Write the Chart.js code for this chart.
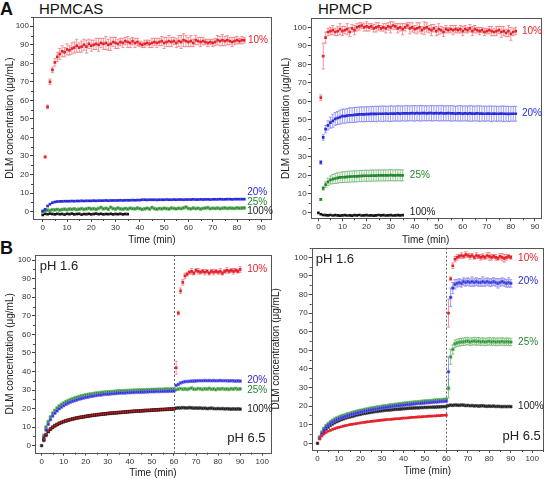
<!DOCTYPE html>
<html>
<head>
<meta charset="utf-8">
<script src="https://cdn.jsdelivr.net/npm/chart.js@4"></script>
<style>
  body { margin: 0; background: #fff; width: 548px; height: 479px; overflow: hidden; position: relative; }
  canvas { position: absolute; }
  .lbl { position: absolute; color: #111; font-family: "Liberation Sans", Arial, sans-serif; line-height: 1; white-space: nowrap; }
</style>
</head>
<body>
<div class="lbl" style="left:0px;top:0px;font-size:18px;font-weight:bold">A</div>
<div class="lbl" style="left:39px;top:1px;font-size:15px">HPMCAS</div>
<div class="lbl" style="left:318px;top:1px;font-size:15px">HPMCP</div>
<div class="lbl" style="left:0px;top:239px;font-size:18px;font-weight:bold">B</div>

<canvas id="aCas" width="276" height="246" style="left:0;top:0"></canvas>
<canvas id="aCp" width="274" height="246" style="left:274px;top:0"></canvas>
<canvas id="bCas" width="276" height="239" style="left:0;top:240px"></canvas>
<canvas id="bCp" width="280" height="239" style="left:268px;top:240px"></canvas>

<script>
// ---- A, HPMCAS (one point per minute) ----
const aCas10 = [29.5,56.5,70,76.5,80.5,83.5,85,86.5,86,87.5,
  87,88,88.5,89.5,88.5,89,90,89,90.5,89.5,
  90,90.5,90,91,90.5,91,90,90.5,91.5,91,
  90.5,91.5,91,92,91.5,91,92,91,91.5,90.5,
  90,90.5,91,90.5,91,91.5,91,91.5,92,91,
  91.5,92,91.5,92,91,92,91.5,92.5,92,91.5,
  92,91,92.5,92,91.5,92,91.5,91,91.5,91,
  91.5,92.5,92,92.5,92,92.5,92,91.5,92,92.5,
  92,92.5,92.5];                                   // t = 1..83
const aCas10Err = [0.5,1,1.5,1.5,2,2.5,3,3,2.5,3,
  2.5,3,3,3.5,2.5,3,3,3.5,2.5,3,
  2.5,3,3.5,2.5,3,3.5,3,3.5,2.5,3,
  2.5,2,2.5,2,3,2.5,2,2.5,2,1.5,
  1.5,2,1.5,2,2.5,2,2.5,2,2.5,3,
  2.5,3,2.5,2,2.5,3,3.5,3.5,3,2.5,
  3,2,2.5,2,2.5,2,1.5,2,1.5,2,
  2,2.5,2.5,3,2.5,2.5,2,2.5,2,2,
  1.5,2,1.5];
const aCas20 = [0.3,1.2,3,4,4.8,5.2,5.4,5.5,5.5,5.6,
  5.6,5.6,5.7,5.6,5.7,5.7,5.8,5.7,5.8,5.8,
  5.8,5.9,5.8,5.9,5.9,5.9,6,5.9,6,6,
  6,6,6.1,6,6.1,6.1,6.1,6.2,6.1,6.2,
  6.2,6.4,6.4,6.3,6.4,6.4,6.4,6.3,6.4,6.4,
  6.4,6.5,6.4,6.4,6.5,6.4,6.5,6.5,6.4,6.5,
  6.5,6.5,6.6,6.5,6.5,6.6,6.5,6.6,6.6,6.5,
  6.6,6.6,6.6,6.7,6.6,6.6,6.7,6.7,6.6,6.7,
  6.7,6.7,6.7,6.7];                                // t = 0..83
const aCas25 = [0,0.5,0.8,0.6,1,0.9,1.2,0.8,1.1,1.3,
  1,1.4,1.2,1.5,1.1,1.3,1.6,1.2,1.5,1.8,
  1.4,1.6,1.2,1.7,2.2,1.5,1.8,1.3,2.3,1.6,
  1.4,1.9,1.5,1.3,1.7,1.4,1.8,1.6,1.5,1.9,
  1.6,1.2,1.5,1.8,1.4,2.2,1.6,1.3,1.7,1.5,
  1.8,1.6,1.4,1.9,1.7,1.5,1.8,1.6,2,2.4,
  1.7,1.5,1.9,1.6,1.8,1.4,1.7,1.9,2.1,1.6,
  1.8,1.7,1.9,1.6,1.8,2,1.7,1.9,1.8,1.7,
  2,1.8,1.9,2];                                    // t = 0..83
const aCas100 = [-1.8,-1.2,-1.4,-1.1,-1.3,-1.5,-1.2,-1.4,-1.3,-1.6,
  -1.2,-1.4,-1.1,-1.5,-1.3,-1.2,-1.6,-1.3,-1.4,-1.2,
  -1.5,-1.3,-1.1,-1.4,-1.2,-1.5,-1.3,-1.4,-1.2,-1.5,
  -1.3,-1.4,-1.2,-1.5,-1.3,-1.4];                  // t = 0..35

// ---- A, HPMCP ----
const aCp10 = [62,84.5,94.5,97.5,98,98.5,97.5,98,99,98,
  98.5,99,97.5,99.5,98.5,100,100.5,101,100,100.5,
  100,100.5,99.5,100,100.5,99.5,100,99.5,100.5,100,
  101,100.5,99.5,100,99,100,101,99.5,100,99,
  99.5,100,98.5,99.5,100,99,98.5,99.5,98,99,
  98.5,97.5,99,98.5,99,98.5,99,98.5,99,98,
  99,98.5,99.5,98,99,98.5,98,98.5,97.5,98,
  98.5,98,97.5,98,98.5,97.5,98,97,98,96.5,
  97.5,98];                                        // t = 1..82
const aCp10Err = [1.5,7,3,2,2,2.5,2,2.5,3,2.5,
  2,3,2.5,2,2.5,2,2,1.5,2,2.5,
  2,1.5,2,2.5,2,1.5,2,2.5,2,3,
  2,1.5,2.5,2,3,2,1.5,3,2.5,2,
  3,2.5,2,3.5,2.5,2,3,2,2.5,3,
  2,2.5,2,1.5,2,2.5,2,1.5,2,2.5,
  2,1.5,2,2.5,2,1.5,2,1.5,2,1.5,
  2,2.5,2,2.5,2,3,2.5,2,3,3.5,
  2,2];
const aCp20 = [27,40.5,45,47,48.5,49.5,50.5,51,51.5,52,
  52,52.3,52.5,52.5,52.7,52.8,53,53,53,53.1,
  53.1,53.2,53.2,53.2,53.3,53.3,53.3,53.4,53.3,53.4,
  53.4,53.4,53.5,53.4,53.5,53.5,53.5,53.5,53.6,53.5,
  53.6,53.5,53.6,53.6,53.5,53.6,53.6,53.5,53.6,53.5,
  53.6,53.5,53.5,53.6,53.5,53.5,53.4,53.5,53.5,53.4,
  53.5,53.4,53.5,53.4,53.4,53.5,53.4,53.4,53.3,53.4,
  53.4,53.3,53.4,53.3,53.3,53.4,53.3,53.3,53.2,53.3,
  53.3,53.3];                                      // t = 1..82
const aCp20Err = [1,1.5,2,2.5,3,3.5,3.5,3.5,3.8,3.8,
  3.8,3.8,4,4,4,4,4,4,4,4,
  4,4.1,4,4.2,4,4.1,4.2,4,4.1,4.2,
  4.1,4,4.2,4.1,4,4.2,4.1,4,4.1,4.2,
  4,4.1,4.2,4,4.1,4,4.2,4.1,4,4.1,
  4.2,4,4.1,4,4.2,4.1,4,4.1,4.2,4,
  4.1,4,4.2,4.1,4,4.1,4.2,4,4.1,4,
  4.1,4.2,4,4.1,4,4.1,4.2,4,4.1,4,
  4,4];
const aCp25 = [7,13,15,16.5,17.5,18,18.3,18.6,18.9,19,
  19.1,19.2,19.3,19.4,19.5,19.5,19.6,19.7,19.8,19.8,
  19.8,19.9,19.9,19.9,20,20,20,20,20,20.1,
  20,20,20.1,20,20];                               // t = 1..35
const aCp25Err = [0.5,1,1.5,2,2.2,2.5,2.7,2.8,2.8,2.9,
  2.9,3,3,3,3,3,3,3,3,3,
  3,3,3,3,3,3,3,3,3,3,
  3,3,3,3,3];
const aCp100 = [-0.3,-1,-1.4,-1.5,-1.6,-1.4,-1.7,-1.5,-1.6,-1.8,
  -1.6,-1.5,-1.7,-1.6,-1.8,-1.5,-1.6,-1.4,-1.7,-1.6,
  -1.5,-1.7,-1.6,-1.8,-1.6,-1.4,-1.6,-1.5,-1.7,-1.6,
  -1.5,-1.7,-1.6,-1.5,-1.6,-1.5];                  // t = 0..35

// ---- B, HPMCAS (pH 1.6 until 60 min, then pH 6.5) ----
const bCas10 = [3.5,6,7.8,9,10,10.8,11.5,12.1,12.6,13,
  13.4,13.8,14.1,14.4,14.7,15,15.2,15.4,15.6,15.8,
  16,16.2,16.4,16.5,16.7,16.8,17,17.1,17.2,17.4,
  17.5,17.6,17.7,17.8,17.9,18,18.1,18.2,18.3,18.4,
  18.5,18.6,18.7,18.7,18.8,18.9,19,19,19.1,19.2,
  19.3,19.3,19.4,19.5,19.5,19.6,19.7,19.7,19.8,19.9,
  42,71.5,83.5,88,91.5,92.5,93.5,94,93,94.5,
  94,93.5,94,93.5,94,93,94,93.5,94,93.5,
  94,93,94,94.5,94,94.5,94,94.5,94,95];            // t = 1..90
const bCas10Err = [3.5,1,1.5,1.5,1.5,1,1,1.5,1,1,
  1.5,1,1,1.5,1,1,1,1.5,1,1,
  1.5,1,1,1.5,1,1,1.5,1,1,1.5];                    // t = 61..90
const bCas20 = [4.5,8.5,11.5,14,16,17.5,18.8,19.9,20.8,21.6,
  22.3,22.9,23.4,23.9,24.3,24.7,25.1,25.4,25.7,26,
  26.2,26.5,26.7,26.9,27.1,27.3,27.4,27.6,27.7,27.8,
  27.9,28,28.1,28.2,28.3,28.4,28.4,28.5,28.6,28.6,
  28.7,28.7,28.8,28.8,28.9,28.9,29,29,29.1,29.1,
  29.1,29.2,29.2,29.2,29.3,29.3,29.3,29.4,29.4,29.5,
  32.5,33,33.8,34.2,34.5,34.6,34.7,34.8,34.8,34.9,
  35,35,35,35.1,35,35.1,35,35.1,35,35,
  35.1,35,35,35,34.9,35,34.9,34.8,34.9,34.8];      // t = 1..90
const bCas25 = [5.5,10,13,15.5,17.5,19,20.3,21.4,22.3,23,
  23.7,24.3,24.8,25.3,25.7,26.1,26.5,26.8,27.1,27.4,
  27.6,27.8,28,28.2,28.4,28.5,28.7,28.8,28.9,29,
  29.1,29.2,29.3,29.4,29.5,29.5,29.6,29.7,29.7,29.8,
  29.8,29.9,29.9,30,30,30.1,30.1,30.2,30.2,30.3,
  30.3,30.3,30.4,30.4,30.4,30.5,30.5,30.5,30.6,30.6,
  30.2,30.5,30.8,30.4,30.6,30.3,30.7,31,30.5,30.4,
  30.8,30.6,30.3,30.7,30.5,30.9,30.4,30.6,30.2,30.7,
  30.5,30.8,30.4,30.6,30.3,30.7,30.5,30.9,30.4,30.6]; // t = 1..90
const bCas100 = [0,2.8,5.5,7.5,8.8,9.8,10.6,11.3,11.9,12.4,12.9,
  13.3,13.7,14,14.3,14.6,14.9,15.1,15.3,15.5,15.7,
  15.9,16.1,16.3,16.4,16.6,16.7,16.9,17,17.1,17.3,
  17.4,17.5,17.6,17.7,17.8,17.9,18,18.1,18.2,18.3,
  18.4,18.5,18.6,18.7,18.7,18.8,18.9,19,19,19.1,
  19.2,19.3,19.3,19.4,19.5,19.5,19.6,19.7,19.7,19.8,
  20.2,20.4,20.3,20.5,20.4,20.3,20.5,20.4,20.2,20.3,
  20.2,20.3,20.1,20.2,20,20.1,20.2,20,19.9,20,
  19.9,20,19.8,19.9,19.8,19.7,19.8,19.7,19.8,19.7]; // t = 0..90

// ---- B, HPMCP ----
const bCp10 = [2.5,4,5,5.8,6.5,7,7.5,7.9,8.3,8.6,
  8.9,9.2,9.5,9.7,10,10.2,10.4,10.6,10.8,11,
  11.2,11.3,11.5,11.6,11.8,11.9,12.1,12.2,12.3,12.5,
  12.6,12.7,12.8,12.9,13,13.1,13.2,13.3,13.4,13.5,
  13.6,13.7,13.8,13.9,14,14.1,14.2,14.2,14.3,14.4,
  14.5,14.6,14.6,14.7,14.8,14.9,14.9,15,15.1,15.2,
  70,88.5,95.5,99,100,100.5,101,100.5,101.5,101,
  100.5,101,100,101,100.5,100,100.5,100,101,100.5,
  100,100.5,100,99.5,100.5,100,99.5,100,100.5,100]; // t = 1..90
const bCp10Err = [7.5,1,1.5,1.5,1.5,1,1.5,1,1.5,1,
  1.5,1,1,1.5,1,1.5,1.5,1,1.5,2,
  1.5,1,1.5,1,1.5,2,2,1.5,1,1];                    // t = 61..90
const bCp20 = [3,5.2,7.2,8.6,9.7,10.6,11.4,12.1,12.7,13.2,
  13.7,14.1,14.5,14.9,15.2,15.6,15.9,16.2,16.5,16.8,
  17,17.3,17.5,17.8,18,18.2,18.4,18.6,18.8,19,
  19.2,19.3,19.5,19.7,19.8,20,20.1,20.3,20.4,20.5,
  20.7,20.8,20.9,21,21.2,21.3,21.4,21.5,21.6,21.7,
  21.8,21.9,22,22.1,22.2,22.3,22.4,22.5,22.6,22.7,
  38.5,78.5,83.5,85.5,86,86.5,86,87,86.5,87,
  86.5,87,86.5,87,86.5,86.5,87,86.5,87,86.5,
  86.5,87,86.5,86,86.5,87,86.5,86,86.5,86];        // t = 1..90
const bCp20Err = [8,5,3,2.5,2,2,2,2,2,2,
  2,2.5,2,2,2,2,2.5,2,2,2,
  2,2,2,2.5,2,2,2,2,2.5,2];                        // t = 61..90
const bCp25 = [3.5,6,8,9.5,10.6,11.5,12.3,13,13.6,14.1,
  14.6,15,15.4,15.8,16.1,16.5,16.8,17.1,17.4,17.7,
  17.9,18.2,18.4,18.7,18.9,19.1,19.3,19.5,19.7,19.9,
  20.1,20.2,20.4,20.6,20.7,20.9,21,21.2,21.3,21.5,
  21.6,21.7,21.9,22,22.1,22.2,22.3,22.5,22.6,22.7,
  22.8,22.9,23,23.1,23.2,23.3,23.4,23.5,23.6,23.7,
  29.5,46.5,50.5,53.5,54,54.3,54.5,54.6,54.8,55,
  54.6,54.8,55,54.7,54.9,54.6,54.8,54.5,54.7,54.9,
  54.6,54.8,54.5,54.7,54.6,54.8,54.5,54.7,54.6,54.5]; // t = 1..90
const bCp25Err = [5,4,2.5,2,2,2,2,2,2,2,
  2,2,2,2,2,2,2,2,2,2,
  2,2,2,2,2,2,2,2,2,2];                            // t = 61..90
const bCp100 = [0,2.5,4.5,6.3,7.6,8.7,9.6,10.4,11.1,11.7,12.2,
  12.7,13.1,13.5,13.9,14.2,14.5,14.8,15.1,15.4,15.6,
  15.9,16.1,16.3,16.5,16.7,16.9,17.1,17.2,17.4,17.5,
  17.7,17.8,17.9,18,18.1,18.2,18.3,18.4,18.5,18.6,
  18.7,18.8,18.9,18.9,19,19.1,19.1,19.2,19.2,19.3,
  19.3,19.4,19.4,19.5,19.5,19.6,19.6,19.7,19.7,19.8,
  20.3,20.5,20.4,20.6,20.5,20.4,20.6,20.5,20.3,20.4,
  20.2,20.3,20.1,20.2,20,20.1,20.2,20,19.9,20,
  19.9,20,19.8,19.9,19.8,19.7,19.8,19.7,19.8,19.7]; // t = 0..90

const RED = '#e6222b', BLUE = '#2a2ad8', GREEN = '#23872b', BLACK = '#151515';
const RED_ERR = 'rgba(236,95,100,0.8)', BLUE_ERR = 'rgba(100,100,235,0.8)', GREEN_ERR = 'rgba(90,170,90,0.8)';

Chart.defaults.font.family = '"Liberation Sans", Arial, sans-serif';

// build {x, y, e} points; t0 is the first minute, errStart the minute of errs[0]
function series(t0, vals, errStart, errs) {
  return vals.map((v, i) => {
    const t = t0 + i;
    const k = errs ? t - errStart : -1;
    return { x: t, y: v, e: (k >= 0 && k < errs.length) ? errs[k] : 0 };
  });
}

// note: Chart.js paints the first dataset last, so list the top layer first
function ds(data, color, errColor, halo, r) {
  return {
    data: data,
    pointStyle: 'rect',
    pointRadius: r || 1.9,
    pointBackgroundColor: color,
    pointBorderColor: halo || color,
    pointBorderWidth: halo ? 1 : 0,
    showLine: false,
    errColor: errColor
  };
}

// frame, minor ticks, error bars, pH line and text notes
function panelPlugin(cfg) {
  return {
    id: 'panel',
    beforeDatasetsDraw(chart) {
      const { ctx, scales: { x, y } } = chart;
      ctx.save();
      ctx.lineWidth = 0.8;
      chart.data.datasets.forEach(d => {
        if (!d.errColor) return;
        ctx.strokeStyle = d.errColor;
        d.data.forEach(p => {
          if (!p.e) return;
          const px = x.getPixelForValue(p.x);
          const y1 = y.getPixelForValue(p.y - p.e), y2 = y.getPixelForValue(p.y + p.e);
          ctx.beginPath();
          ctx.moveTo(px, y1); ctx.lineTo(px, y2);
          ctx.moveTo(px - 1.6, y1); ctx.lineTo(px + 1.6, y1);
          ctx.moveTo(px - 1.6, y2); ctx.lineTo(px + 1.6, y2);
          ctx.stroke();
        });
      });
      if (cfg.phShift) {
        const px = Math.round(x.getPixelForValue(cfg.phShift)) + 0.5;
        ctx.strokeStyle = '#666';
        ctx.lineWidth = 1;
        ctx.setLineDash([2, 2]);
        ctx.beginPath();
        ctx.moveTo(px, chart.chartArea.top);
        ctx.lineTo(px, chart.chartArea.bottom);
        ctx.stroke();
        ctx.setLineDash([]);
      }
      ctx.restore();
    },
    afterDraw(chart) {
      const { ctx, chartArea: a, scales: { x, y } } = chart;
      ctx.save();
      ctx.strokeStyle = '#555';
      ctx.lineWidth = 1;
      ctx.strokeRect(Math.round(a.left) + 0.5, Math.round(a.top) + 0.5,
        Math.round(a.right - a.left), Math.round(a.bottom - a.top));
      ctx.strokeStyle = '#444';
      ctx.beginPath();
      for (let v = Math.ceil(x.min / 5) * 5; v <= x.max; v += 5) {
        if (v % 10 === 0) continue;
        const px = Math.round(x.getPixelForValue(v)) + 0.5;
        ctx.moveTo(px, a.bottom); ctx.lineTo(px, a.bottom + 2);
      }
      for (let v = Math.ceil(y.min / 5) * 5; v <= y.max; v += 5) {
        if (v % 10 === 0) continue;
        const py = Math.round(y.getPixelForValue(v)) + 0.5;
        ctx.moveTo(a.left, py); ctx.lineTo(a.left - 2, py);
      }
      ctx.stroke();
      ctx.textBaseline = 'middle';
      cfg.notes.forEach(n => {
        ctx.font = (n.size || 10) + 'px "Liberation Sans", Arial, sans-serif';
        ctx.fillStyle = n.color;
        ctx.textAlign = n.align || 'left';
        ctx.fillText(n.text, x.getPixelForValue(n.x), y.getPixelForValue(n.y));
      });
      ctx.restore();
    }
  };
}

function makePanel(id, cfg) {
  const canvas = document.getElementById(id);
  const a = cfg.area;
  return new Chart(canvas, {
    type: 'scatter',
    data: { datasets: cfg.datasets },
    options: {
      responsive: false,
      animation: false,
      events: [],
      layout: { padding: { left: 0, top: a.top, right: canvas.width - a.right, bottom: 0 } },
      plugins: { legend: { display: false }, tooltip: { enabled: false } },
      scales: {
        x: {
          type: 'linear', min: cfg.x[0], max: cfg.x[1],
          border: { display: false },
          grid: { drawOnChartArea: false, drawTicks: true, tickLength: 3, color: '#444' },
          ticks: { stepSize: 10, includeBounds: false, autoSkip: false, maxRotation: 0, padding: 1,
                   font: { size: 8 }, color: '#333' },
          title: { display: true, text: 'Time (min)', font: { size: 10 }, color: '#222',
                   padding: { top: 0, bottom: cfg.xTitlePad } },
          afterFit: s => { s.height = canvas.height - a.bottom; }
        },
        y: {
          type: 'linear', min: cfg.y[0], max: cfg.y[1],
          border: { display: false },
          grid: { drawOnChartArea: false, drawTicks: true, tickLength: 3, color: '#444' },
          ticks: { stepSize: 10, includeBounds: false, autoSkip: false, padding: 1,
                   font: { size: 8 }, color: '#333' },
          title: { display: true, text: 'DLM concentration (\u03bcg/mL)', font: { size: 10 }, color: '#222',
                   padding: { top: cfg.yTitlePad, bottom: 0 } },
          afterFit: s => { s.width = a.left; }
        }
      }
    },
    plugins: [panelPlugin(cfg)]
  });
}

makePanel('aCas', {
  area: { left: 33, top: 17, right: 271, bottom: 219 },
  x: [-4, 94], y: [-4, 105], xTitlePad: 0, yTitlePad: 4.5,
  datasets: [
    ds(series(1, aCas10, 1, aCas10Err), RED, RED_ERR),
    ds(series(0, aCas20), BLUE),
    ds(series(0, aCas25), GREEN, null, 'rgba(110,180,110,0.7)'),
    ds(series(0, aCas100), BLACK)
  ],
  notes: [
    { text: '10%', x: 84.5, y: 92.5, color: RED },
    { text: '20%', x: 84.2, y: 10.5, color: BLUE },
    { text: '25%', x: 84.2, y: 5.2, color: GREEN },
    { text: '100%', x: 84.2, y: 0.2, color: '#222' }
  ]
});

makePanel('aCp', {
  area: { left: 36.7, top: 18.3, right: 266.7, bottom: 218.3 },
  x: [-3.2, 92.4], y: [-3.2, 104.9], xTitlePad: 0, yTitlePad: 5.8,
  datasets: [
    ds(series(1, aCp10, 1, aCp10Err), RED, RED_ERR),
    ds(series(1, aCp20, 1, aCp20Err), BLUE, BLUE_ERR),
    ds(series(1, aCp25, 1, aCp25Err), GREEN, GREEN_ERR),
    ds(series(0, aCp100), BLACK)
  ],
  notes: [
    { text: '10%', x: 84.6, y: 98, color: RED },
    { text: '20%', x: 84.6, y: 53.5, color: BLUE },
    { text: '25%', x: 38, y: 19.8, color: GREEN },
    { text: '100%', x: 38, y: 0, color: '#222' }
  ]
});

// HPMCAS 10%: before the pH shift its points sit on the 100% curve and read dark red
const bCas10Set = ds(series(1, bCas10, 61, bCas10Err), RED, RED_ERR);
bCas10Set.pointBackgroundColor = c => (c.raw && c.raw.x <= 60) ? '#b8232a' : RED;
bCas10Set.pointBorderColor = c => (c.raw && c.raw.x <= 60) ? 'rgba(40,0,0,0.6)' : RED;
bCas10Set.pointBorderWidth = c => (c.raw && c.raw.x <= 60) ? 0.8 : 0;

makePanel('bCas', {
  area: { left: 35, top: 15, right: 271, bottom: 212.7 },
  x: [-3, 104], y: [-3.8, 102.8], xTitlePad: 0, yTitlePad: 4.5, phShift: 60,
  datasets: [
    bCas10Set,
    ds(series(0, bCas100), BLACK, null, 'rgba(90,90,90,0.6)'),
    ds(series(1, bCas20), BLUE, null, 'rgba(120,120,235,0.6)'),
    ds(series(1, bCas25), GREEN, null, 'rgba(120,190,120,0.8)')
  ],
  notes: [
    { text: '10%', x: 93.2, y: 95, color: RED },
    { text: '20%', x: 93.2, y: 35.4, color: BLUE },
    { text: '25%', x: 93.2, y: 30, color: GREEN },
    { text: '100%', x: 93.2, y: 19.6, color: '#222' },
    { text: 'pH 1.6', x: -0.8, y: 96.8, color: '#222', size: 13 },
    { text: 'pH 6.5', x: 101.5, y: 4, color: '#222', size: 13, align: 'right' }
  ]
});

makePanel('bCp', {
  area: { left: 43.7, top: 7.7, right: 279.5, bottom: 210 },
  x: [-2.7, 105], y: [-3.6, 105.2], xTitlePad: 2, yTitlePad: 2.7, phShift: 60,
  datasets: [
    ds(series(1, bCp10, 61, bCp10Err), RED, RED_ERR),
    ds(series(1, bCp20, 61, bCp20Err), BLUE, BLUE_ERR, 'rgba(120,120,235,0.6)'),
    ds(series(0, bCp100), BLACK, null, 'rgba(90,90,90,0.6)'),
    ds(series(1, bCp25, 61, bCp25Err), GREEN, GREEN_ERR, 'rgba(120,190,120,0.8)')
  ],
  notes: [
    { text: '10%', x: 93.4, y: 99.5, color: RED },
    { text: '20%', x: 93.4, y: 87.3, color: BLUE },
    { text: '25%', x: 93.4, y: 54.6, color: GREEN },
    { text: '100%', x: 93.4, y: 19.7, color: '#222' },
    { text: 'pH 1.6', x: -0.8, y: 99, color: '#222', size: 13 },
    { text: 'pH 6.5', x: 104, y: 3.5, color: '#222', size: 13, align: 'right' }
  ]
});
</script>
</body>
</html>
